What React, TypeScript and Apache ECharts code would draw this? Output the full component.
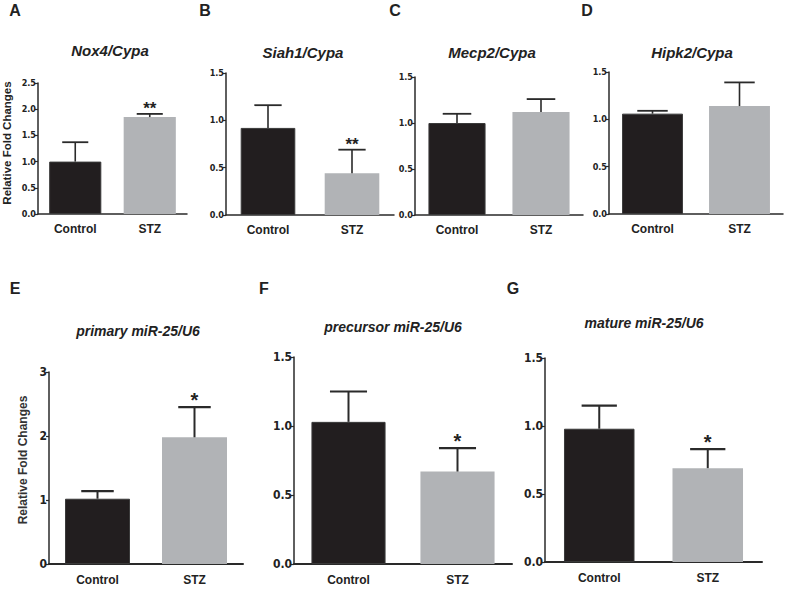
import React, { useEffect, useRef } from "react";
import * as echarts from "echarts";

const categories = ["Control", "STZ"];
const panelLetters = ["A", "B", "C", "D", "E", "F", "G"];
const panelTitles = [
  "Nox4/Cypa",
  "Siah1/Cypa",
  "Mecp2/Cypa",
  "Hipk2/Cypa",
  "primary miR-25/U6",
  "precursor miR-25/U6",
  "mature miR-25/U6",
];
const meansA = [1.0, 1.85];
const semA = [0.37, 0.06];
const meansB = [0.92, 0.44];
const semB = [0.24, 0.25];
const meansC = [1.0, 1.12];
const semC = [0.1, 0.14];
const meansD = [1.06, 1.14];
const semD = [0.03, 0.25];
const meansE = [1.02, 1.98];
const semE = [0.12, 0.47];
const meansF = [1.03, 0.67];
const semF = [0.22, 0.17];
const meansG = [0.98, 0.69];
const semG = [0.17, 0.14];
const sigA = ["", "**"];
const sigB = ["", "**"];
const sigC = ["", ""];
const sigD = ["", ""];
const sigE = ["", "*"];
const sigF = ["", "*"];
const sigG = ["", "*"];
const yMaxes = [2.5, 1.5, 1.5, 1.5, 3, 1.5, 1.5];
const yIntervals = [0.5, 0.5, 0.5, 0.5, 1, 0.5, 0.5];
const yLabelText = "Relative Fold Changes";

const allMeans = [meansA, meansB, meansC, meansD, meansE, meansF, meansG];
const allSem = [semA, semB, semC, semD, semE, semF, semG];
const allSig = [sigA, sigB, sigC, sigD, sigE, sigF, sigG];

// layout (pixels)
const layout = [
  { left: 38, top: 83, width: 149, height: 131, bw: "70%", tx: 110, ty: 50, lx: 15, ly: 10, big: false },
  { left: 226, top: 73, width: 168, height: 142, bw: "65%", tx: 303, ty: 52, lx: 205, ly: 10, big: false },
  { left: 415, top: 77, width: 168, height: 138, bw: "68%", tx: 492, ty: 52, lx: 395, ly: 10, big: false },
  { left: 609, top: 72, width: 174, height: 142, bw: "70%", tx: 692, ty: 52, lx: 587, ly: 10, big: false },
  { left: 49, top: 372, width: 194, height: 192, bw: "67%", tx: 138, ty: 331, lx: 15, ly: 288, big: true },
  { left: 294, top: 357, width: 218, height: 207, bw: "68%", tx: 393, ty: 327, lx: 264, ly: 288, big: true },
  { left: 545, top: 358, width: 217, height: 204, bw: "65%", tx: 644, ty: 323, lx: 513, ly: 288, big: true },
];

const barColors = ["#221e1f", "#b1b3b6"];
const axisColor = "#2a2a2a";
const narrow = "'Liberation Sans Narrow', 'DejaVu Sans Condensed', 'Arial Narrow', sans-serif";
const sans = "'Liberation Sans', Arial, Helvetica, sans-serif";

export default function App() {
  const ref = useRef<HTMLDivElement>(null);
  useEffect(() => {
    if (!ref.current) return;
    const chart = echarts.init(ref.current, null, { renderer: "svg" });
    const grids: any[] = [];
    const xAxes: any[] = [];
    const yAxes: any[] = [];
    const series: any[] = [];
    const graphic: any[] = [];

    layout.forEach((L, i) => {
      grids.push({ left: L.left, top: L.top, width: L.width, height: L.height, containLabel: false });
      xAxes.push({
        type: "category",
        gridIndex: i,
        data: categories,
        axisLine: { lineStyle: { color: axisColor, width: L.big ? 2 : 1.5 } },
        axisTick: { alignWithLabel: true, length: 3, lineStyle: { color: axisColor, width: 1.2 } },
        axisLabel: { color: "#222", fontSize: 12, fontWeight: "bold", fontFamily: sans, margin: L.big ? 10 : 9 },
        splitLine: { show: false },
      });
      yAxes.push({
        type: "value",
        gridIndex: i,
        min: 0,
        max: yMaxes[i],
        interval: yIntervals[i],
        axisLine: { show: true, lineStyle: { color: axisColor, width: 1.5 } },
        axisTick: { show: true, length: 3, lineStyle: { color: axisColor, width: 1.2 } },
        axisLabel: {
          color: "#222",
          fontSize: L.big ? 12 : 9,
          fontWeight: "bold",
          fontFamily: narrow,
          margin: 2,
          formatter: (v: number) => (yIntervals[i] < 1 ? v.toFixed(1) : String(v)),
        },
        splitLine: { show: false },
      });
      const means = allMeans[i];
      const sem = allSem[i];
      const sig = allSig[i];
      series.push({
        type: "bar",
        xAxisIndex: i,
        yAxisIndex: i,
        barWidth: L.bw,
        data: means.map((m, k) => ({
          value: m,
          itemStyle: { color: barColors[k], borderColor: k === 0 ? "#3a3a3a" : barColors[k], borderWidth: k === 0 ? 1 : 0 },
        })),
        silent: true,
      });
      const frac = parseFloat(L.bw) / 100;
      series.push({
        type: "custom",
        xAxisIndex: i,
        yAxisIndex: i,
        silent: true,
        z: 5,
        data: means.map((m, k) => [k, m, m + sem[k]]),
        renderItem: (params: any, api: any) => {
          const k = api.value(0);
          const p0 = api.coord([k, api.value(1)]);
          const p1 = api.coord([k, api.value(2)]);
          const band = api.size([1, 0])[0];
          const half = (band * frac) / 4;
          const children: any[] = [
            { type: "line", shape: { x1: p0[0], y1: p0[1], x2: p1[0], y2: p1[1] }, style: { stroke: "#2a2a2a", lineWidth: L.big ? 2 : 1.6 } },
            { type: "line", shape: { x1: p1[0] - half, y1: p1[1], x2: p1[0] + half, y2: p1[1] }, style: { stroke: "#2a2a2a", lineWidth: L.big ? 2.2 : 1.8 } },
          ];
          const s = sig[params.dataIndex];
          if (s) {
            children.push({
              type: "text",
              x: p1[0],
              y: p1[1] + 3,
              style: {
                text: s,
                align: "center",
                verticalAlign: "bottom",
                font: `bold ${L.big ? 20 : 17}px ${sans}`,
                fill: "#222",
              },
            });
          }
          return { type: "group", children };
        },
      });
      graphic.push({
        type: "text",
        x: L.lx,
        y: L.ly,
        style: { text: panelLetters[i], align: "center", verticalAlign: "middle", font: `bold 16px ${sans}`, fill: "#222" },
      });
      graphic.push({
        type: "text",
        x: L.tx,
        y: L.ty,
        style: { text: panelTitles[i], align: "center", verticalAlign: "middle", font: `italic bold ${L.big ? 14 : 15}px ${sans}`, fill: "#222" },
      });
    });

    graphic.push({
      type: "text",
      x: 7,
      y: 143,
      rotation: Math.PI / 2,
      style: { text: yLabelText, align: "center", verticalAlign: "middle", font: `bold 11.5px ${sans}`, fill: "#222" },
    });
    graphic.push({
      type: "text",
      x: 23,
      y: 460,
      rotation: Math.PI / 2,
      style: { text: yLabelText, align: "center", verticalAlign: "middle", font: `bold 12px ${sans}`, fill: "#333" },
    });

    chart.setOption({
      animation: false,
      backgroundColor: "#ffffff",
      grid: grids,
      xAxis: xAxes,
      yAxis: yAxes,
      series,
      graphic,
    });
    return () => chart.dispose();
  }, []);
  return <div ref={ref} style={{ position: "fixed", left: 0, top: 0, width: 787, height: 605 }} />;
}
